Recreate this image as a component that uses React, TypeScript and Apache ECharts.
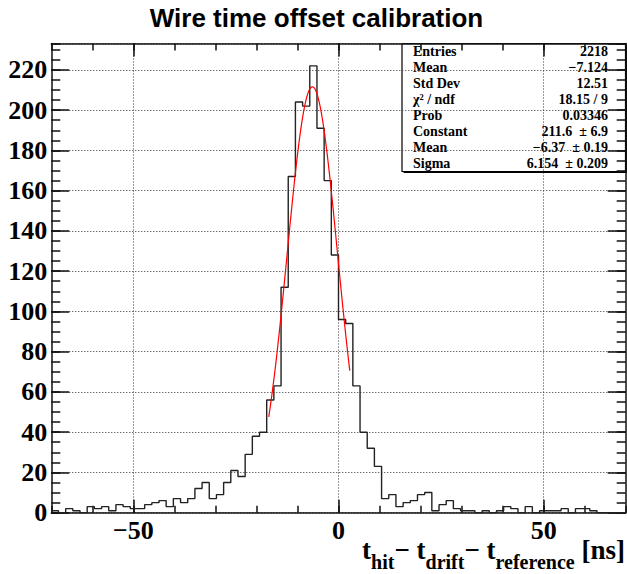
import React, { useEffect, useRef } from "react";
import * as echarts from "echarts";

// ---- data ----
const binLow = -70;
const binWidth = 1.75;
const binCounts = [
  1, 0, 2, 1, 0, 3, 2, 3, 1, 4, 3, 2, 2, 4, 5, 6, 3, 7, 5, 7,
  12, 15, 7, 9, 15, 21, 18, 29, 38, 40, 56, 63,
  112, 167, 204, 202, 222, 191, 165, 128, 96, 94, 63, 40, 32, 23,
  7, 9, 3, 5, 6, 9, 10, 1, 4, 6,
  2, 1, 1, 0, 1, 0, 1, 3, 2, 0,
  3, 0, 1, 1, 1, 2, 0, 2, 2, 1,
  0, 0, 0, 0,
];
const fitConstant = 211.6;
const fitMean = -6.37;
const fitSigma = 6.154;
const fitRange = [-17, 2.75];
const xMajorTicks = [-50, 0, 50];
const yMax = 233.1;
const titleText = "Wire time offset calibration";
const statsLabels = ["Entries", "Mean", "Std Dev", "\u03c7\u00b2 / ndf", "Prob", "Constant", "Mean", "Sigma"];
const statsValues = ["2218", "\u22127.124", "12.51", "18.15 / 9", "0.03346", "211.6  \u00b1 6.9", "\u22126.37  \u00b1 0.19", "6.154  \u00b1 0.209"];
const xTitleParts = [
  { text: "t", sub: false },
  { text: "hit", sub: true },
  { text: "\u2212 t", sub: false },
  { text: "drift", sub: true },
  { text: "\u2212 t", sub: false },
  { text: "reference", sub: true },
  { text: " [ns]", sub: false },
];

const SERIF = "Liberation Serif";
const SANS = "Liberation Sans";

export default function App() {
  const ref = useRef<HTMLDivElement>(null);
  useEffect(() => {
    if (!ref.current) return;
    const chart = echarts.init(ref.current, undefined, { renderer: "svg" });

    const histData: number[][] = [];
    binCounts.forEach((c, k) => {
      const x0 = binLow + k * binWidth;
      histData.push([x0, c]);
      histData.push([x0 + binWidth, c]);
    });
    const fitData: number[][] = [];
    const nFit = 100;
    for (let i = 0; i <= nFit; i++) {
      const x = fitRange[0] + ((fitRange[1] - fitRange[0]) * i) / nFit;
      const d = (x - fitMean) / fitSigma;
      fitData.push([x, fitConstant * Math.exp(-0.5 * d * d)]);
    }

    const lineStyle = { color: "#111", width: 1.5 };
    const noLabel = { show: false };
    const noSplit = { show: false };
    const baseX = { type: "value", min: -70, max: 70, interval: 10 };
    const baseY = { type: "value", min: 0, max: yMax };

    // x title measurement
    const ctx = document.createElement("canvas").getContext("2d")!;
    const mainFont = `bold 27px "${SERIF}"`;
    const subFont = `bold 20px "${SERIF}"`;
    const widths = xTitleParts.map((p) => {
      ctx.font = p.sub ? subFont : mainFont;
      return ctx.measureText(p.text).width;
    });
    const total = widths.reduce((a, b) => a + b, 0);
    let cx = 625 - total;
    const titleEls: any[] = xTitleParts.map((p, i) => {
      const el = {
        type: "text",
        x: cx,
        y: p.sub ? 562 : 550,
        style: {
          text: p.text,
          font: p.sub ? subFont : mainFont,
          fill: "#000",
          align: "left",
          verticalAlign: "middle",
        },
      };
      cx += widths[i];
      return el;
    });

    const statsEls: any[] = [];
    statsLabels.forEach((lab, i) => {
      const y = 51 + i * 16;
      statsEls.push({
        type: "text", x: 413, y, z: -9,
        style: { text: lab, font: `bold 14px "${SERIF}"`, fill: "#000", align: "left", verticalAlign: "middle" },
      });
      statsEls.push({
        type: "text", x: 608, y, z: -9,
        style: { text: statsValues[i], font: `bold 14px "${SERIF}"`, fill: "#000", align: "right", verticalAlign: "middle" },
      });
    });

    chart.setOption({
      animation: false,
      grid: { left: 51.3, right: 1.3, top: 43.5, bottom: 61.3, containLabel: false },
      xAxis: [
        {
          ...baseX,
          position: "bottom",
          axisLine: { show: true, onZero: false, lineStyle },
          axisTick: { show: true, inside: true, length: 13, customValues: xMajorTicks, lineStyle },
          axisLabel: {
            show: true,
            customValues: xMajorTicks,
            formatter: (v: number) => (v < 0 ? "\u2212" + Math.abs(v) : String(v)),
            fontFamily: SERIF,
            fontWeight: "bold",
            fontSize: 26,
            color: "#000",
            margin: 5,
          },
          splitLine: { show: true, lineStyle: { color: "#333", type: [1, 2], width: 1 } },
        },
        {
          ...baseX,
          position: "bottom",
          axisLine: { show: false, onZero: false },
          axisTick: { show: true, inside: true, length: 7, lineStyle },
          axisLabel: noLabel,
          splitLine: noSplit,
        },
        {
          ...baseX,
          position: "top",
          axisLine: { show: true, onZero: false, lineStyle },
          axisTick: { show: true, inside: true, length: 13, customValues: xMajorTicks, lineStyle },
          axisLabel: noLabel,
          splitLine: noSplit,
        },
        {
          ...baseX,
          position: "top",
          axisLine: { show: false, onZero: false },
          axisTick: { show: true, inside: true, length: 7, lineStyle },
          axisLabel: noLabel,
          splitLine: noSplit,
        },
      ],
      yAxis: [
        {
          ...baseY,
          interval: 20,
          position: "left",
          axisLine: { show: true, onZero: false, lineStyle },
          axisTick: { show: true, inside: true, length: 18, lineStyle },
          axisLabel: {
            show: true,
            showMaxLabel: false,
            fontFamily: SERIF,
            fontWeight: "bold",
            fontSize: 26,
            color: "#000",
            margin: 4,
          },
          splitLine: { show: true, lineStyle: { color: "#333", type: [1, 2], width: 1 } },
        },
        {
          ...baseY,
          interval: 5,
          position: "left",
          axisLine: { show: false, onZero: false },
          axisTick: { show: true, inside: true, length: 9, lineStyle },
          axisLabel: noLabel,
          splitLine: noSplit,
        },
        {
          ...baseY,
          interval: 20,
          position: "right",
          axisLine: { show: true, onZero: false, lineStyle },
          axisTick: { show: true, inside: true, length: 18, lineStyle },
          axisLabel: noLabel,
          splitLine: noSplit,
        },
        {
          ...baseY,
          interval: 5,
          position: "right",
          axisLine: { show: false, onZero: false },
          axisTick: { show: true, inside: true, length: 9, lineStyle },
          axisLabel: noLabel,
          splitLine: noSplit,
        },
      ],
      series: [
        {
          type: "line",
          xAxisIndex: 0,
          yAxisIndex: 0,
          data: histData,
          showSymbol: false,
          symbol: "none",
          lineStyle: { color: "#222", width: 1.4 },
          z: 3,
        },
        {
          type: "line",
          xAxisIndex: 0,
          yAxisIndex: 0,
          data: fitData,
          showSymbol: false,
          symbol: "none",
          lineStyle: { color: "#ff0000", width: 1.2 },
          z: 4,
        },
      ],
      graphic: [
        {
          type: "text",
          x: 316.5,
          y: 17.5,
          style: {
            text: titleText,
            font: `bold 26px "${SANS}"`,
            fill: "#000",
            align: "center",
            verticalAlign: "middle",
          },
        },
        {
          type: "rect",
          z: -11,
          shape: { x: 403.5, y: 45, width: 223.5, height: 128 },
          style: { fill: "#000" },
        },
        {
          type: "rect",
          z: -10,
          shape: { x: 402, y: 43.5, width: 223.5, height: 128 },
          style: { fill: "#fff", stroke: "#000", lineWidth: 1.2 },
        },
        ...statsEls,
        ...titleEls,
      ],
    });
    return () => chart.dispose();
  }, []);
  return (
    <div
      ref={ref}
      style={{ position: "absolute", left: 0, top: 0, width: 627, height: 574, background: "#fff" }}
    />
  );
}
